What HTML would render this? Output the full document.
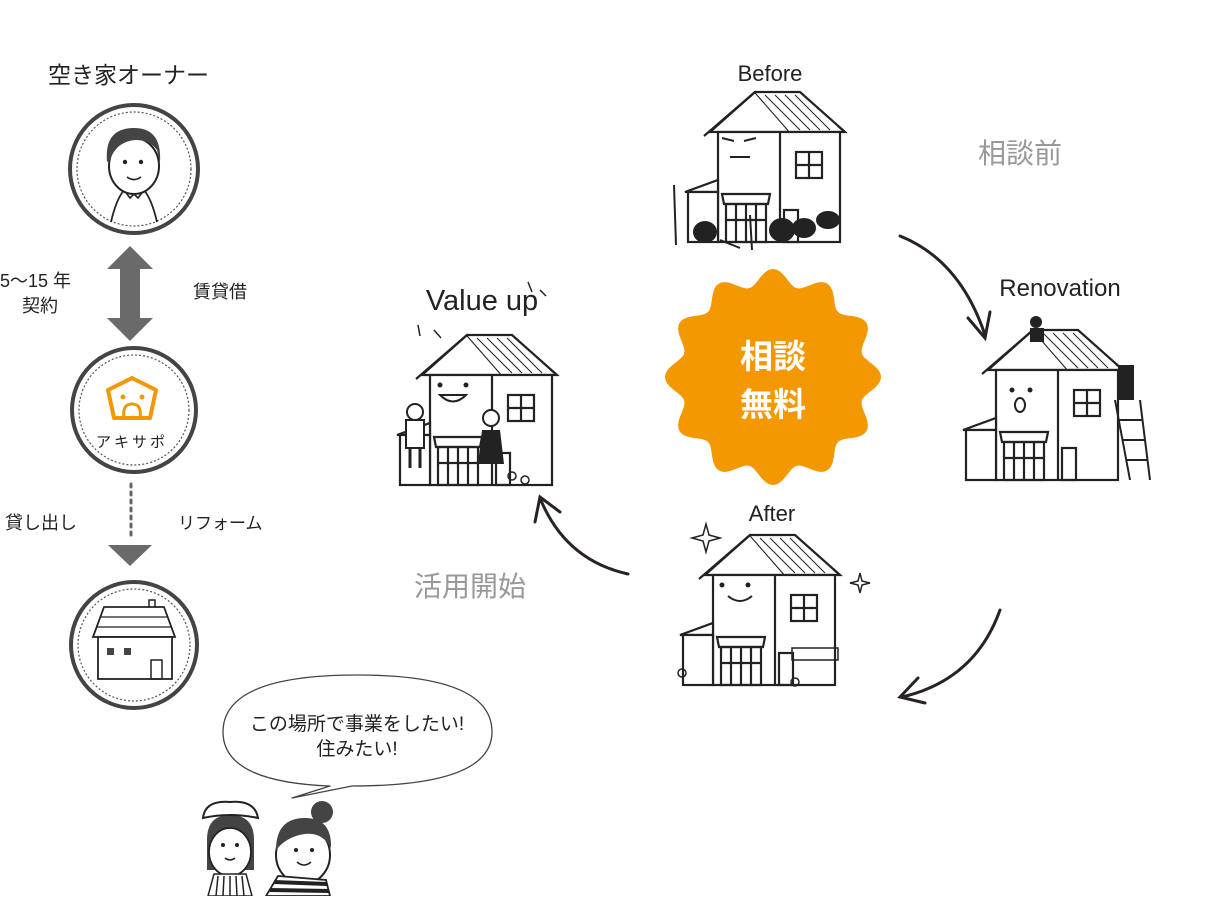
<!DOCTYPE html>
<html><head><meta charset="utf-8"><style>
html,body{margin:0;padding:0;background:#fff;}
body{width:1223px;height:896px;overflow:hidden;font-family:"Liberation Sans","Noto Sans CJK JP",sans-serif;}
</style></head><body>
<svg width="1223" height="896" viewBox="0 0 1223 896" xmlns="http://www.w3.org/2000/svg" font-family="Liberation Sans, Noto Sans CJK JP, sans-serif">
<defs>
<g id="house" fill="none" stroke="#222" stroke-width="2.2">
  <path d="M30 40 L75 0 L110 40 Z" fill="#fff"/>
  <path d="M75 0 L120 0 L165 40 L110 40" fill="#fff"/>
  <path d="M85 3 L120 38 M95 3 L130 38 M105 3 L140 38 M115 3 L150 38" stroke-width="1"/>
  <path d="M24 44 L75 0 M165 40 L158 34" />
  <rect x="38" y="40" width="122" height="110" fill="#fff"/>
  <line x1="100" y1="40" x2="100" y2="150"/>
  <rect x="116" y="60" width="26" height="26"/>
  <line x1="129" y1="60" x2="129" y2="86"/><line x1="116" y1="73" x2="142" y2="73"/>
  <path d="M5 100 L38 88 L38 100 Z" fill="#fff"/>
  <rect x="8" y="100" width="30" height="50" fill="#fff"/>
  <path d="M42 102 L90 102 L88 112 L44 112 Z" fill="#fff"/>
  <rect x="46" y="112" width="40" height="38"/>
  <line x1="56" y1="112" x2="56" y2="150"/><line x1="66" y1="112" x2="66" y2="150"/><line x1="76" y1="112" x2="76" y2="150"/>
  <line x1="46" y1="128" x2="86" y2="128"/>
  <rect x="104" y="118" width="14" height="32"/>
</g>
</defs>

<text x="48" y="83" font-size="23" fill="#222">空き家オーナー</text>
<circle cx="134" cy="169" r="64" fill="#fff" stroke="#444" stroke-width="4"/>
<circle cx="134" cy="169" r="57" fill="none" stroke="#555" stroke-width="1.2" stroke-dasharray="2 2"/>
<path d="M111 222 Q116 200 124 190 M157 222 Q152 200 144 190" fill="none" stroke="#222" stroke-width="1.8"/>
<path d="M124 190 L130 198 L134 194 L138 198 L144 190" fill="none" stroke="#222" stroke-width="1.6"/>
<ellipse cx="134" cy="166" rx="25" ry="28" fill="#fff" stroke="#222" stroke-width="2"/>
<path d="M107 162 Q104 128 134 128 Q162 128 160 162 L157 150 Q150 140 135 140 Q116 142 110 160Z" fill="#444"/>
<circle cx="125" cy="162" r="2.2" fill="#222"/><circle cx="141" cy="162" r="2.2" fill="#222"/>
<path d="M127 177 Q134 182 141 177" fill="none" stroke="#222" stroke-width="1.6"/>

<path d="M130 246 L153 269 L140 269 L140 318 L153 318 L130 341 L107 318 L120 318 L120 269 L107 269 Z" fill="#6a6a6a"/>
<text x="0" y="287" font-size="18" fill="#222">5〜15 年</text>
<text x="22" y="312" font-size="18" fill="#222">契約</text>
<text x="193" y="298" font-size="18" fill="#222">賃貸借</text>

<circle cx="134" cy="410" r="62" fill="#fff" stroke="#444" stroke-width="4"/>
<circle cx="134" cy="410" r="55" fill="none" stroke="#555" stroke-width="1.2" stroke-dasharray="2 2"/>
<path d="M132 378 L156 390 L150 418 L114 418 L108 390 Z" fill="none" stroke="#f39800" stroke-width="4" stroke-linejoin="round"/>
<circle cx="123" cy="397" r="2.5" fill="#f39800"/><circle cx="142" cy="397" r="2.5" fill="#f39800"/>
<path d="M124 418 Q122 404 132 404 Q142 404 140 418" fill="none" stroke="#f39800" stroke-width="3"/>
<text x="96" y="447" font-size="15" fill="#222" letter-spacing="3">アキサポ</text>

<line x1="131" y1="484" x2="131" y2="540" stroke="#666" stroke-width="3" stroke-dasharray="3 5" stroke-linecap="round"/>
<path d="M108 545 L152 545 L130 566 Z" fill="#6a6a6a"/>
<text x="5" y="529" font-size="18" fill="#222">貸し出し</text>
<text x="178" y="529" font-size="17" fill="#222">リフォーム</text>

<circle cx="134" cy="645" r="63" fill="#fff" stroke="#444" stroke-width="4"/>
<circle cx="134" cy="645" r="56" fill="none" stroke="#555" stroke-width="1.2" stroke-dasharray="2 2"/>
<rect x="149" y="600" width="6" height="12" fill="#fff" stroke="#222" stroke-width="1.5"/>
<path d="M93 637 L104 607 L164 607 L175 637 Z" fill="#fff" stroke="#222" stroke-width="1.8"/>
<path d="M100 617 L168 617 M97 627 L172 627" stroke="#222" stroke-width="1.2"/>
<rect x="98" y="637" width="74" height="42" fill="#fff" stroke="#222" stroke-width="1.8"/>
<rect x="107" y="648" width="7" height="7" fill="#444"/><rect x="124" y="648" width="7" height="7" fill="#444"/>
<rect x="151" y="660" width="11" height="19" fill="none" stroke="#222" stroke-width="1.5"/>

<path d="M292 798 L330 786 Q223 782 223 732 Q223 675 357 675 Q492 675 492 732 Q492 786 352 786 Z" fill="#fff" stroke="#444" stroke-width="1.3" stroke-linejoin="round"/>
<text x="357" y="730" font-size="19" fill="#222" text-anchor="middle">この場所で事業をしたい!</text>
<text x="357" y="755" font-size="19" fill="#222" text-anchor="middle">住みたい!</text>

<path d="M207 870 L207 840 Q207 815 230 815 Q254 815 254 840 L254 870 Z" fill="#444"/>
<ellipse cx="230" cy="852" rx="21" ry="24" fill="#fff" stroke="#222" stroke-width="1.8"/>
<path d="M203 818 Q205 800 230 802 Q255 800 258 818 Q230 812 203 818Z" fill="#fff" stroke="#222" stroke-width="2"/>
<circle cx="223" cy="845" r="2" fill="#222"/><circle cx="237" cy="845" r="2" fill="#222"/>
<path d="M225 858 Q230 862 235 858" fill="none" stroke="#222" stroke-width="1.5"/>
<path d="M214 874 L246 874 L252 896 L208 896 Z" fill="#fff" stroke="#222" stroke-width="1.5"/>
<path d="M218 876 L216 896 M224 876 L223 896 M230 876 L230 896 M236 876 L237 896 M242 876 L244 896" stroke="#222" stroke-width="1.5"/>
<circle cx="322" cy="812" r="11" fill="#444"/>
<ellipse cx="303" cy="855" rx="27" ry="29" fill="#fff" stroke="#222" stroke-width="2"/>
<path d="M276 850 Q276 818 305 818 Q332 818 331 848 Q320 828 296 836 Q284 840 276 850Z" fill="#444"/>
<circle cx="296" cy="850" r="2" fill="#222"/><circle cx="312" cy="850" r="2" fill="#222"/>
<path d="M297 862 Q304 868 311 862" fill="none" stroke="#222" stroke-width="1.5"/>
<path d="M278 876 L326 880 L330 896 L266 896 Z" fill="#fff" stroke="#222" stroke-width="1.8"/>
<path d="M274 882 L327 884 M270 890 L329 891" stroke="#222" stroke-width="4"/>

<path id="burst" fill="#f39800" d=""/>
<text x="773" y="368" font-size="33" font-weight="bold" fill="#fff" text-anchor="middle">相談</text>
<text x="773" y="416" font-size="33" font-weight="bold" fill="#fff" text-anchor="middle">無料</text>

<text x="770" y="81" font-size="22" fill="#222" text-anchor="middle">Before</text>
<text x="1020" y="163" font-size="28" fill="#999" text-anchor="middle">相談前</text>
<text x="1060" y="296" font-size="24" fill="#222" text-anchor="middle">Renovation</text>
<text x="772" y="521" font-size="22" fill="#222" text-anchor="middle">After</text>
<text x="470" y="596" font-size="28" fill="#999" text-anchor="middle">活用開始</text>
<text x="482" y="310" font-size="29" fill="#222" text-anchor="middle">Value up</text>

<use href="#house" x="680" y="92"/>
<use href="#house" x="958" y="330"/>
<use href="#house" x="675" y="535"/>
<use href="#house" x="392" y="335"/>
<path d="M722 138 L734 141 M744 141 L756 138 M730 157 L750 157" stroke="#222" stroke-width="2"/>
<ellipse cx="705" cy="232" rx="12" ry="11" fill="#222"/><ellipse cx="782" cy="230" rx="13" ry="12" fill="#222"/>
<ellipse cx="804" cy="228" rx="12" ry="10" fill="#222"/><ellipse cx="828" cy="220" rx="12" ry="9" fill="#222"/>
<path d="M674 185 L676 245 M750 215 L752 250 M720 240 L740 248" stroke="#222" stroke-width="2"/>
<circle cx="1012" cy="390" r="2.5" fill="#222"/><circle cx="1030" cy="390" r="2.5" fill="#222"/>
<ellipse cx="1020" cy="405" rx="5" ry="7" fill="none" stroke="#222" stroke-width="2"/>
<path d="M1115 400 L1130 480 M1140 400 L1150 480 M1118 420 L1142 420 M1122 440 L1145 440 M1126 460 L1148 460" stroke="#222" stroke-width="2"/>
<rect x="1118" y="365" width="16" height="35" fill="#222"/>
<circle cx="1036" cy="322" r="6" fill="#222"/><rect x="1030" y="328" width="14" height="14" fill="#222"/>
<circle cx="722" cy="585" r="2.5" fill="#222"/><circle cx="748" cy="585" r="2.5" fill="#222"/>
<path d="M728 596 Q740 606 752 596" fill="none" stroke="#222" stroke-width="2"/>
<path d="M706 524 L709 535 L720 538 L709 541 L706 552 L703 541 L692 538 L703 535 Z" fill="none" stroke="#222" stroke-width="1.5"/>
<path d="M860 573 L862 581 L870 583 L862 585 L860 593 L858 585 L850 583 L858 581 Z" fill="none" stroke="#222" stroke-width="1.5"/>
<rect x="792" y="648" width="46" height="12" fill="none" stroke="#222" stroke-width="1.5"/>
<circle cx="682" cy="673" r="4" fill="none" stroke="#222" stroke-width="1.5"/><circle cx="795" cy="682" r="4" fill="none" stroke="#222" stroke-width="1.5"/>
<circle cx="440" cy="385" r="2.5" fill="#222"/><circle cx="466" cy="385" r="2.5" fill="#222"/>
<path d="M440 395 Q453 408 466 395 Z" fill="#fff" stroke="#222" stroke-width="2"/>
<rect x="406" y="420" width="18" height="28" fill="#fff" stroke="#222" stroke-width="2"/>
<path d="M410 448 L410 468 M420 448 L420 468" stroke="#222" stroke-width="3"/>
<circle cx="415" cy="412" r="8" fill="#fff" stroke="#222" stroke-width="2"/>
<path d="M482 430 L500 430 L504 464 L478 464 Z" fill="#222"/>
<circle cx="491" cy="418" r="8" fill="#fff" stroke="#222" stroke-width="2"/>
<path d="M434 330 L441 338 M418 325 L420 336 M528 282 L532 292 M540 290 L546 296" stroke="#222" stroke-width="1.5"/>
<circle cx="512" cy="476" r="4" fill="none" stroke="#222" stroke-width="1.5"/><circle cx="525" cy="480" r="4" fill="none" stroke="#222" stroke-width="1.5"/>

<g fill="none" stroke="#2a2222" stroke-width="3" stroke-linecap="round">
<path d="M900 236 Q960 260 985 335"/>
<path d="M968 318 L985 338 L990 312"/>
<path d="M1000 610 Q975 680 902 697"/>
<path d="M918 678 L900 697 L925 703"/>
<path d="M628 574 Q565 560 540 498"/>
<path d="M535 522 L540 497 L560 512"/>
</g>
</svg>
<script>
(function(){var cx=773,cy=377,d="";for(var i=0;i<=360;i++){var t=i/360*2*Math.PI;var c=Math.cos(12*t);var r=100+8*c;var x=cx+r*Math.sin(t),y=cy-r*Math.cos(t);d+=(i?"L":"M")+x.toFixed(1)+" "+y.toFixed(1);}document.getElementById("burst").setAttribute("d",d+"Z");})();
</script>
</body></html>
